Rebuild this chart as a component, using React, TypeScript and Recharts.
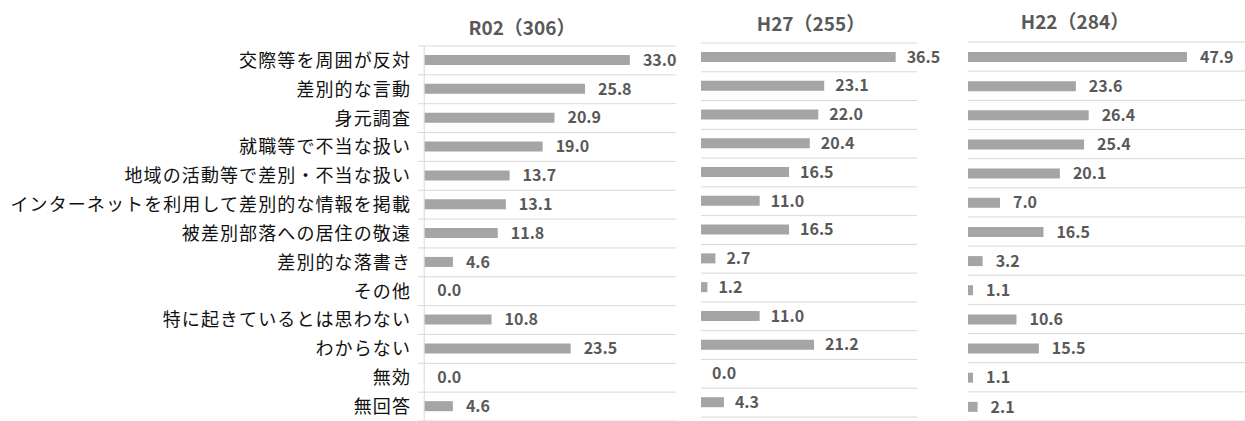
import React from 'react';
import { Bar, BarChart, CartesianGrid, LabelList, ReferenceLine, XAxis, YAxis } from 'recharts';

const categories = [
    '交際等を周囲が反対',
    '差別的な言動',
    '身元調査',
    '就職等で不当な扱い',
    '地域の活動等で差別・不当な扱い',
    'インターネットを利用して差別的な情報を掲載',
    '被差別部落への居住の敬遠',
    '差別的な落書き',
    'その他',
    '特に起きているとは思わない',
    'わからない',
    '無効',
    '無回答',
];

const r02Values = [33.0, 25.8, 20.9, 19.0, 13.7, 13.1, 11.8, 4.6, 0.0, 10.8, 23.5, 0.0, 4.6];
const h27Values = [36.5, 23.1, 22.0, 20.4, 16.5, 11.0, 16.5, 2.7, 1.2, 11.0, 21.2, 0.0, 4.3];
const h22Values = [47.9, 23.6, 26.4, 25.4, 20.1, 7.0, 16.5, 3.2, 1.1, 10.6, 15.5, 1.1, 2.1];

const panelTitles = ['R02（306）', 'H27（255）', 'H22（284）'];

const FONT = "'Noto Sans CJK JP', 'Noto Sans', sans-serif";
const BAR = '#a5a5a5';
const GRID = '#d9d9d9';
const LABEL = '#595959';

const toRows = (values: number[]) => categories.map((name, i) => ({ name, value: values[i] }));

// lines sit between categories, like the Excel original
const boundaryLines = (props: any) => {
    const { offset } = props;
    const n = categories.length;
    return Array.from({ length: n + 1 }, (_, i) => offset.top + (offset.height * i) / n);
};

const fmt = (v: any) => Number(v).toFixed(1);

interface PanelProps {
    values: number[];
    domain: [number, number];
    left: number;
    width: number;
    margin: { top: number; right: number; bottom: number; left: number };
    withAxis?: boolean;
    labelOffset?: number;
}

const Panel: React.FC<PanelProps> = ({ values, domain, left, width, margin, withAxis, labelOffset = 12 }) => (
    <div style={{ position: 'absolute', left, top: 0 }}>
        <BarChart width={width} height={421} data={toRows(values)} layout="vertical" margin={margin} barSize={10}>
            <CartesianGrid vertical={false} stroke={GRID} horizontalCoordinatesGenerator={boundaryLines} />
            <XAxis type="number" hide domain={domain} allowDataOverflow />
            {withAxis ? (
                <YAxis
                    type="category"
                    dataKey="name"
                    width={418}
                    axisLine={false}
                    tickLine={false}
                    tickSize={0}
                    tickMargin={7}
                    interval={0}
                    tick={{ fill: '#111', fontSize: 18, fontFamily: FONT, letterSpacing: 1.1 }}
                />
            ) : (
                <YAxis type="category" dataKey="name" hide />
            )}
            {withAxis && <ReferenceLine x={0} stroke={GRID} />}
            {/* tiny minPointSize so the 0.0 rows still get their label */}
            <Bar dataKey="value" fill={BAR} minPointSize={0.01} isAnimationActive={false}>
                <LabelList
                    dataKey="value"
                    position="right"
                    offset={labelOffset}
                    formatter={fmt}
                    fill={LABEL}
                    fontSize={16}
                    fontWeight="bold"
                    fontFamily={FONT}
                />
            </Bar>
        </BarChart>
    </div>
);

const titleStyle = (cx: number, cy: number): React.CSSProperties => ({
    position: 'absolute',
    left: cx - 80,
    top: cy - 13,
    width: 160,
    textAlign: 'center',
    fontFamily: FONT,
    fontSize: 19,
    fontWeight: 'bold',
    color: LABEL,
    lineHeight: '26px',
});

export default function App() {
    return (
        <div style={{ position: 'absolute', left: 0, top: 0, width: 1245, height: 421, background: '#fff', overflow: 'hidden' }}>
            <div style={titleStyle(522, 27)}>{panelTitles[0]}</div>
            <div style={titleStyle(811, 23)}>{panelTitles[1]}</div>
            <div style={titleStyle(1075, 21)}>{panelTitles[2]}</div>
            <Panel
                values={r02Values}
                domain={[-1, 40.4]}
                left={0}
                width={680}
                margin={{ top: 46, right: 4, bottom: 0, left: 0 }}
                withAxis
                labelOffset={13}
            />
            <Panel
                values={h27Values}
                domain={[0, 40.5]}
                left={701}
                width={250}
                margin={{ top: 43, right: 34, bottom: 4, left: 0 }}
                labelOffset={11}
            />
            <Panel
                values={h22Values}
                domain={[0, 60.6]}
                left={968}
                width={277}
                margin={{ top: 42, right: 0, bottom: 0, left: 0 }}
                labelOffset={13}
            />
        </div>
    );
}
